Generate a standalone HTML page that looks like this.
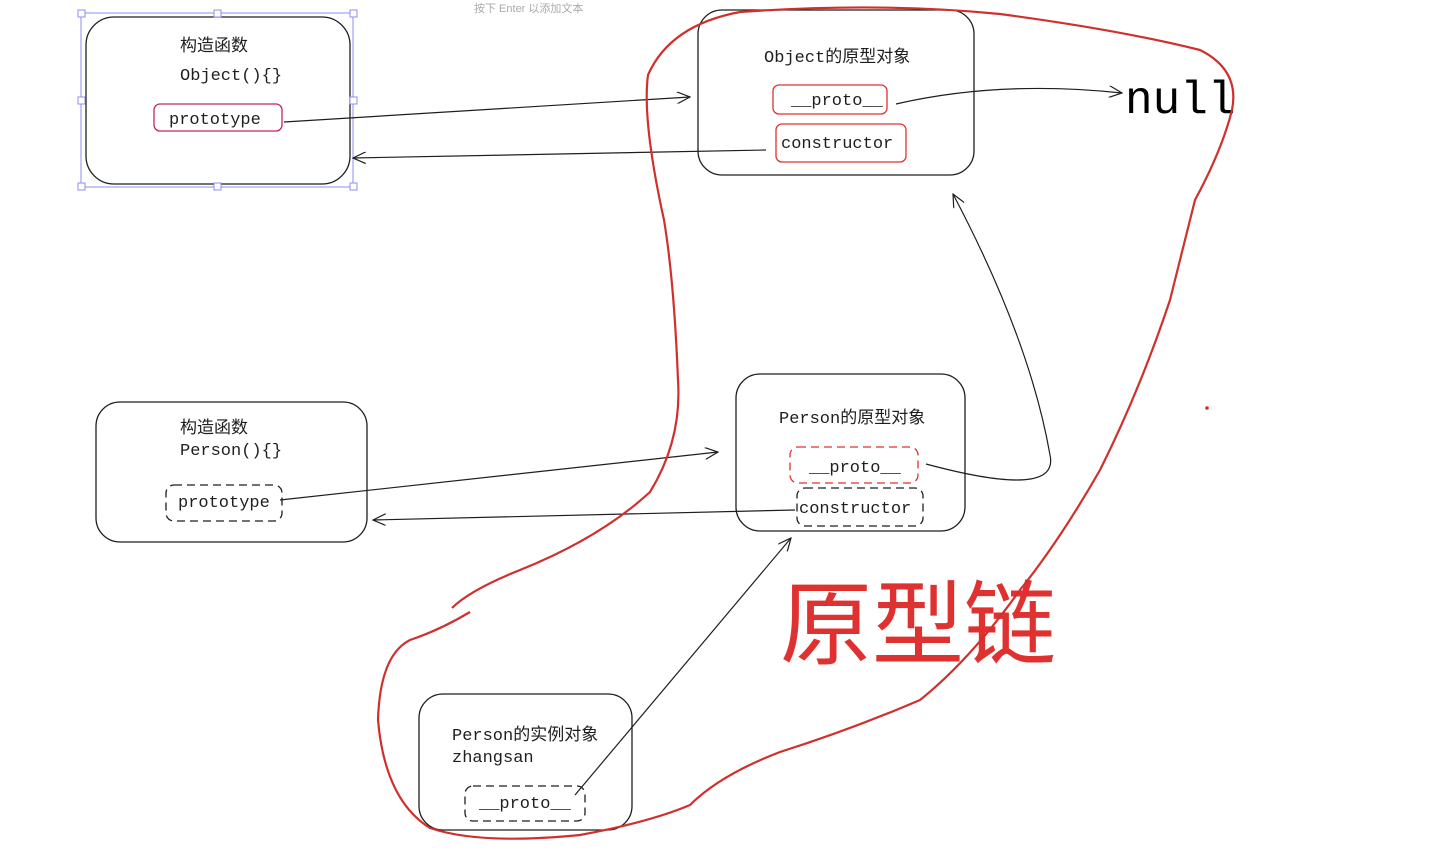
<!DOCTYPE html>
<html><head><meta charset="utf-8"><style>
body{margin:0;background:#fff;width:1443px;height:858px;overflow:hidden}
svg text{font-family:"Liberation Mono","Noto Sans CJK SC",monospace;fill:#1e1e1e}
</style></head><body>
<svg width="1443" height="858" viewBox="0 0 1443 858" xmlns="http://www.w3.org/2000/svg">
<defs><marker id="a" markerWidth="14" markerHeight="12" refX="13" refY="6" orient="auto" markerUnits="userSpaceOnUse"><path d="M0,0 L13,6 L0,12" fill="none" stroke="#1e1e1e" stroke-width="1.2"/></marker></defs>
<text x="474" y="12" font-size="11" style="fill:#aaa;font-family:'Liberation Sans','Noto Sans CJK SC',sans-serif">按下 Enter 以添加文本</text>
<g fill="none" stroke="#1e1e1e" stroke-width="1.3">
<rect x="86" y="17" width="264" height="167" rx="28"/>
<rect x="698" y="10" width="276" height="165" rx="24"/>
<rect x="96" y="402" width="271" height="140" rx="24"/>
<rect x="736" y="374" width="229" height="157" rx="24"/>
<rect x="419" y="694" width="213" height="136" rx="24"/>
</g>
<g fill="none" stroke="#8c8cf0" stroke-width="1">
<rect x="81" y="13" width="272" height="174"/>
<g fill="#fff"><rect x="78" y="10" width="7" height="7"/><rect x="214" y="10" width="7" height="7"/><rect x="350" y="10" width="7" height="7"/><rect x="78" y="97" width="7" height="7"/><rect x="350" y="97" width="7" height="7"/><rect x="78" y="183" width="7" height="7"/><rect x="214" y="183" width="7" height="7"/><rect x="350" y="183" width="7" height="7"/></g>
</g>
<g fill="none" stroke-width="1.3">
<rect x="154" y="104" width="128" height="27" rx="6" stroke="#c2255c"/>
<rect x="773" y="85" width="114" height="29" rx="6" stroke="#e03131"/>
<rect x="776" y="124" width="130" height="38" rx="6" stroke="#e03131"/>
<rect x="166" y="485" width="116" height="36" rx="8" stroke="#1e1e1e" stroke-dasharray="8 5"/>
<rect x="790" y="447" width="128" height="36" rx="8" stroke="#e03131" stroke-dasharray="8 5"/>
<rect x="797" y="488" width="126" height="38" rx="8" stroke="#1e1e1e" stroke-dasharray="8 5"/>
<rect x="465" y="786" width="120" height="35" rx="8" stroke="#1e1e1e" stroke-dasharray="8 5"/>
</g>
<g font-size="17">
<text x="180" y="51">构造函数</text>
<text x="180" y="80">Object(){}</text>
<text x="169" y="124">prototype</text>
<text x="764" y="62">Object的原型对象</text>
<text x="791" y="105">__proto__</text>
<text x="781" y="148">constructor</text>
<text x="180" y="433">构造函数</text>
<text x="180" y="455">Person(){}</text>
<text x="178" y="507">prototype</text>
<text x="779" y="423">Person的原型对象</text>
<text x="809" y="472">__proto__</text>
<text x="799" y="513">constructor</text>
<text x="452" y="740">Person的实例对象</text>
<text x="452" y="762">zhangsan</text>
<text x="479" y="808">__proto__</text>
</g>
<text x="1125" y="113" font-size="46" style="fill:#000">null</text>
<text x="780" y="657" font-size="92" style="fill:#e03131;font-family:'Noto Sans CJK SC',sans-serif">原型链</text>
<g fill="none" stroke="#1e1e1e" stroke-width="1.2">
<path d="M284,122 L690,97" marker-end="url(#a)"/>
<path d="M766,150 L353,158" marker-end="url(#a)"/>
<path d="M896,104 Q1000,80 1122,93" marker-end="url(#a)"/>
<path d="M280,500 L718,452" marker-end="url(#a)"/>
<path d="M795,510 L373,520" marker-end="url(#a)"/>
<path d="M926,464 Q1060,500 1050,455 Q1030,340 953,194" marker-end="url(#a)"/>
<path d="M575,795 L791,538" marker-end="url(#a)"/>
</g>
<path d="M452,608 Q470,590 520,570 Q600,538 650,492 Q682,440 678,380 Q674,280 664,220 Q642,120 648,75 Q670,25 740,12 Q880,2 1000,14 Q1120,30 1200,50 Q1240,70 1232,110 Q1222,150 1195,200 Q1185,240 1170,300 Q1140,390 1100,470 Q1060,540 1020,590 Q970,660 920,700 Q850,730 780,752 Q720,775 690,805 Q650,822 580,835 Q480,845 430,828 Q385,800 378,720 Q380,655 410,640 Q440,630 470,612" fill="none" stroke="#d0302d" stroke-width="2.2"/>
<circle cx="1207" cy="408" r="1.8" fill="#d0302d"/>
</svg>
</body></html>
